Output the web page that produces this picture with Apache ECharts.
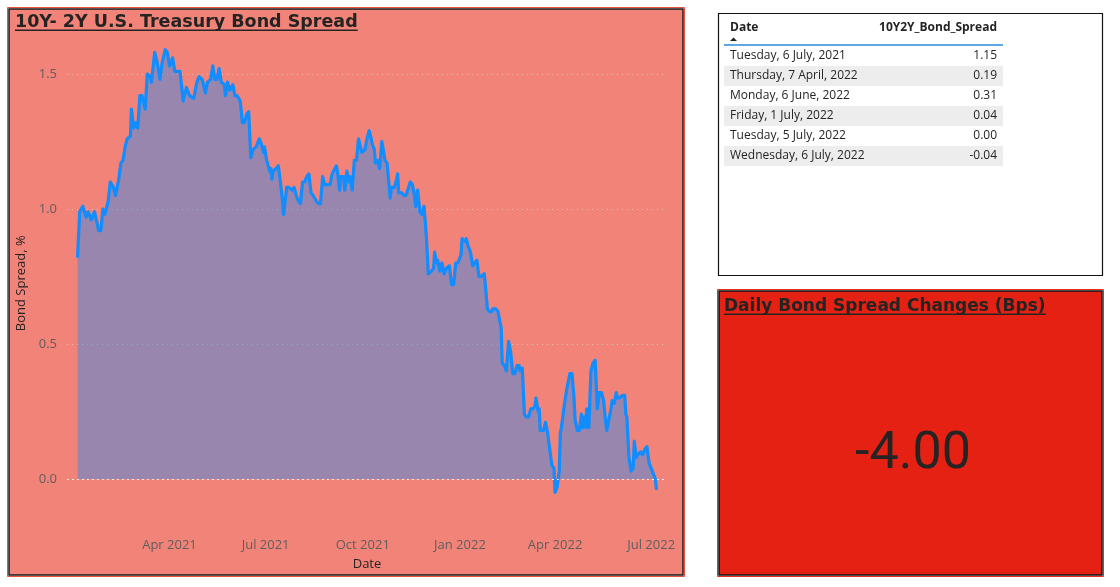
<!DOCTYPE html>
<html><head><meta charset="utf-8">
<script src="https://cdn.jsdelivr.net/npm/echarts@6/dist/echarts.min.js"></script>
<style>html,body{margin:0;padding:0;background:#fff}#c{width:1120px;height:587px}</style>
</head><body><div id="c"></div>
<script>
// ---- data ----
const dates = [
'2021-01-04','2021-01-06','2021-01-09','2021-01-12','2021-01-14','2021-01-17','2021-01-20','2021-01-24','2021-01-26','2021-01-28','2021-01-30',
'2021-02-02','2021-02-04','2021-02-07','2021-02-09','2021-02-12','2021-02-14','2021-02-16','2021-02-18','2021-02-20','2021-02-23','2021-02-24','2021-02-26','2021-02-28',
'2021-03-02','2021-03-04','2021-03-06','2021-03-09','2021-03-11','2021-03-14','2021-03-15','2021-03-18','2021-03-20','2021-03-23','2021-03-25','2021-03-28','2021-03-30',
'2021-04-01','2021-04-04','2021-04-06','2021-04-08','2021-04-11','2021-04-14','2021-04-17','2021-04-20','2021-04-24','2021-04-27','2021-04-29',
'2021-05-02','2021-05-05','2021-05-07','2021-05-10','2021-05-12','2021-05-14','2021-05-16','2021-05-18','2021-05-20','2021-05-23','2021-05-24','2021-05-26','2021-05-28','2021-05-31',
'2021-06-02','2021-06-04','2021-06-07','2021-06-09','2021-06-11','2021-06-13','2021-06-15','2021-06-17','2021-06-19','2021-06-22','2021-06-25','2021-06-27','2021-06-29','2021-06-30',
'2021-07-02','2021-07-05','2021-07-06','2021-07-07','2021-07-08','2021-07-11','2021-07-13','2021-07-15','2021-07-17','2021-07-18','2021-07-21','2021-07-23','2021-07-26','2021-07-28','2021-07-30',
'2021-08-01','2021-08-03','2021-08-05','2021-08-07','2021-08-09','2021-08-11','2021-08-13','2021-08-15','2021-08-18','2021-08-20','2021-08-22','2021-08-24','2021-08-26','2021-08-28','2021-08-31',
'2021-09-02','2021-09-06','2021-09-07','2021-09-09','2021-09-10','2021-09-13','2021-09-14','2021-09-16','2021-09-18','2021-09-19','2021-09-21','2021-09-23','2021-09-25','2021-09-27','2021-09-30',
'2021-10-03','2021-10-05','2021-10-07','2021-10-09','2021-10-10','2021-10-12','2021-10-13','2021-10-15','2021-10-17','2021-10-19','2021-10-20','2021-10-22','2021-10-24','2021-10-27','2021-10-28','2021-10-31',
'2021-11-02','2021-11-03','2021-11-04','2021-11-07','2021-11-09','2021-11-11','2021-11-15','2021-11-17','2021-11-19','2021-11-20','2021-11-22','2021-11-24','2021-11-26','2021-11-28','2021-11-30',
'2021-12-01','2021-12-02','2021-12-05','2021-12-07','2021-12-08','2021-12-10','2021-12-11','2021-12-13','2021-12-15','2021-12-17','2021-12-19','2021-12-22','2021-12-24','2021-12-26','2021-12-28','2021-12-30',
'2022-01-02','2022-01-03','2022-01-06','2022-01-07','2022-01-09','2022-01-11','2022-01-13','2022-01-15','2022-01-17','2022-01-19','2022-01-21','2022-01-24','2022-01-25','2022-01-27','2022-01-29','2022-01-31',
'2022-02-01','2022-02-04','2022-02-06','2022-02-07','2022-02-09','2022-02-10','2022-02-12','2022-02-14','2022-02-16','2022-02-18','2022-02-20','2022-02-22','2022-02-24','2022-02-26','2022-02-27',
'2022-03-01','2022-03-03','2022-03-05','2022-03-07','2022-03-09','2022-03-11','2022-03-13','2022-03-14','2022-03-16','2022-03-17','2022-03-18','2022-03-21','2022-03-23','2022-03-25','2022-03-27','2022-03-29','2022-03-31',
'2022-04-01','2022-04-03','2022-04-05','2022-04-06','2022-04-07','2022-04-08','2022-04-10','2022-04-12','2022-04-13','2022-04-15','2022-04-17','2022-04-19','2022-04-20','2022-04-22','2022-04-24','2022-04-26','2022-04-27','2022-04-29','2022-04-30',
'2022-05-01','2022-05-03','2022-05-05','2022-05-07','2022-05-09','2022-05-11','2022-05-13','2022-05-15','2022-05-17','2022-05-19','2022-05-20','2022-05-22','2022-05-24','2022-05-25','2022-05-27','2022-05-29','2022-05-30',
'2022-06-01','2022-06-04','2022-06-06','2022-06-07','2022-06-08','2022-06-10','2022-06-12','2022-06-14','2022-06-15','2022-06-17','2022-06-18','2022-06-21','2022-06-23','2022-06-25','2022-06-27','2022-06-29','2022-06-30',
'2022-07-01','2022-07-05','2022-07-06'
];
const spreads = [
0.82,0.99,1.01,0.97,0.99,0.96,0.99,0.92,0.92,1.00,0.98,
1.03,1.10,1.08,1.05,1.11,1.17,1.18,1.23,1.26,1.27,1.37,1.30,1.32,
1.30,1.42,1.42,1.37,1.50,1.49,1.47,1.58,1.55,1.48,1.54,1.59,1.58,
1.53,1.56,1.51,1.51,1.51,1.40,1.45,1.42,1.41,1.47,1.49,
1.48,1.43,1.47,1.48,1.53,1.48,1.48,1.52,1.47,1.46,1.42,1.47,1.44,1.46,
1.42,1.42,1.40,1.32,1.32,1.35,1.36,1.19,1.22,1.23,1.26,1.24,1.21,1.23,
1.18,1.14,1.15,1.11,1.14,1.15,1.16,1.10,1.03,0.98,1.08,1.08,1.07,1.08,1.05,
1.03,1.02,1.10,1.10,1.12,1.13,1.06,1.05,1.03,1.02,1.02,1.12,1.09,1.09,1.09,
1.13,1.16,1.14,1.07,1.12,1.12,1.07,1.14,1.10,1.12,1.07,1.18,1.18,1.26,1.21,
1.22,1.26,1.29,1.26,1.24,1.22,1.17,1.18,1.15,1.25,1.23,1.18,1.17,1.04,1.08,1.08,
1.11,1.13,1.06,1.06,1.05,1.05,1.10,1.09,1.05,1.01,1.07,0.99,0.98,1.01,0.91,
0.84,0.76,0.77,0.78,0.84,0.80,0.81,0.77,0.80,0.76,0.78,0.79,0.72,0.72,0.80,0.80,
0.83,0.89,0.88,0.89,0.86,0.84,0.79,0.80,0.81,0.75,0.75,0.76,0.72,0.63,0.62,0.62,
0.63,0.63,0.62,0.60,0.56,0.43,0.42,0.40,0.51,0.47,0.39,0.39,0.42,0.42,0.40,
0.41,0.24,0.23,0.23,0.26,0.26,0.27,0.30,0.25,0.26,0.18,0.18,0.21,0.17,0.11,0.05,0.04,
-0.05,-0.03,0.03,0.17,0.19,0.19,0.28,0.33,0.35,0.39,0.39,0.30,0.22,0.18,0.18,0.24,0.19,0.23,0.19,
0.26,0.19,0.40,0.43,0.44,0.26,0.32,0.32,0.29,0.21,0.18,0.22,0.26,0.29,0.28,0.32,0.30,
0.30,0.31,0.31,0.24,0.23,0.08,0.03,0.04,0.14,0.08,0.09,0.10,0.09,0.11,0.12,0.06,0.06,
0.04,0.00,-0.04
];
const xTickDates = ['2021-04-01','2021-07-01','2021-10-01','2022-01-01','2022-04-01','2022-07-01'];
const xTickLabels = ['Apr 2021','Jul 2021','Oct 2021','Jan 2022','Apr 2022','Jul 2022'];
const yTicks = [0, 0.5, 1.0, 1.5];
const tableHeaders = ['Date', '10Y2Y_Bond_Spread'];
const tableDates = ['Tuesday, 6 July, 2021','Thursday, 7 April, 2022','Monday, 6 June, 2022','Friday, 1 July, 2022','Tuesday, 5 July, 2022','Wednesday, 6 July, 2022'];
const tableValues = [1.15, 0.19, 0.31, 0.04, 0.00, -0.04];
const chartTitle = '10Y- 2Y U.S. Treasury Bond Spread';
const cardTitle = 'Daily Bond Spread Changes (Bps)';
const dailyChangeBps = -4.00;

// ---- helpers ----
function parseT(s){
  const p = s.split('-').map(Number);
  return new Date(p[0], p[1]-1, p[2]).getTime();
}
const xTickTimes = xTickDates.map(parseT);
function textWidth(text, font){
  try { return new echarts.graphic.Text({style:{text:text, font:font}}).getBoundingRect().width; }
  catch(e){ return text.length * 9; }
}
const DARK = '#252423';
const titleFont = 'bold 17.5px "DejaVu Sans"';
const cardTitleFont = 'bold 17px "DejaVu Sans"';
const rowFont = '12px "Open Sans"';
const headFont = 'bold 12px "Open Sans"';

const g = [];
// chart panel
g.push({type:'rect', z:-20, silent:true, shape:{x:7.5,y:7.5,width:677,height:569}, style:{fill:'none', stroke:'#e8503f', lineWidth:1}});
g.push({type:'rect', z:-19, silent:true, shape:{x:9,y:9,width:674,height:566}, style:{fill:'#F28379', stroke:'#1b1b1b', lineWidth:1.5}});
g.push({type:'text', z:10, silent:true, style:{text:chartTitle, x:15, y:22, font:titleFont, fill:DARK, textAlign:'left', textVerticalAlign:'middle', align:'left', verticalAlign:'middle'}});
g.push({type:'rect', z:10, silent:true, shape:{x:15, y:29.5, width:textWidth(chartTitle, titleFont), height:1.6}, style:{fill:DARK}});

// table panel
g.push({type:'rect', z:-20, silent:true, shape:{x:718.5,y:13.5,width:384,height:262}, style:{fill:'#ffffff', stroke:'#111', lineWidth:1.2}});
g.push({type:'text', z:10, silent:true, style:{text:tableHeaders[0], x:730, y:28, font:headFont, fill:DARK, textAlign:'left', textVerticalAlign:'middle', align:'left', verticalAlign:'middle'}});
g.push({type:'text', z:10, silent:true, style:{text:tableHeaders[1], x:997, y:28, font:headFont, fill:DARK, textAlign:'right', textVerticalAlign:'middle', align:'right', verticalAlign:'middle'}});
g.push({type:'polygon', z:10, silent:true, shape:{points:[[730,41],[737,41],[733.5,37.5]]}, style:{fill:DARK}});
g.push({type:'line', z:10, silent:true, shape:{x1:724,y1:45,x2:1003,y2:45}, style:{stroke:'#2b88d8', lineWidth:1.5}});
tableDates.forEach((d,i)=>{
  const top = 46 + 20*i;
  if (i % 2 === 1) g.push({type:'rect', z:5, silent:true, shape:{x:724,y:top,width:279,height:20}, style:{fill:'#EDEDED'}});
  g.push({type:'text', z:10, silent:true, style:{text:d, x:730, y:top+10, font:rowFont, fill:DARK, textAlign:'left', textVerticalAlign:'middle', align:'left', verticalAlign:'middle'}});
  g.push({type:'text', z:10, silent:true, style:{text:tableValues[i].toFixed(2), x:997, y:top+10, font:rowFont, fill:DARK, textAlign:'right', textVerticalAlign:'middle', align:'right', verticalAlign:'middle'}});
});

// card panel
g.push({type:'rect', z:-20, silent:true, shape:{x:717.5,y:289.5,width:386,height:287}, style:{fill:'none', stroke:'#e8301f', lineWidth:1}});
g.push({type:'rect', z:-19, silent:true, shape:{x:719,y:291,width:383,height:284}, style:{fill:'#E52114', stroke:'#111', lineWidth:1.5}});
g.push({type:'text', z:10, silent:true, style:{text:cardTitle, x:724, y:306.5, font:cardTitleFont, fill:DARK, textAlign:'left', textVerticalAlign:'middle', align:'left', verticalAlign:'middle'}});
g.push({type:'rect', z:10, silent:true, shape:{x:724, y:313.5, width:textWidth(cardTitle, cardTitleFont), height:1.6}, style:{fill:DARK}});
g.push({type:'text', z:10, silent:true, style:{text:dailyChangeBps.toFixed(2), x:913, y:455, font:'52px Roboto', fill:DARK, textAlign:'center', textVerticalAlign:'middle', align:'center', verticalAlign:'middle'}});

const chart = echarts.init(document.getElementById('c'), null, {renderer:'canvas'});
chart.setOption({
  animation:false,
  backgroundColor:'#ffffff',
  graphic:{elements:g},
  grid:{left:67, right:453, top:33.5, bottom:54, containLabel:false},
  xAxis:{
    type:'value', min:parseT('2020-12-25'), max:parseT('2022-07-16'),
    name:'Date', nameLocation:'middle', nameGap:25,
    nameTextStyle:{color:DARK, fontSize:13, fontFamily:'Open Sans'},
    axisLine:{show:false}, axisTick:{show:false, customValues:xTickTimes}, splitLine:{show:false},
    axisLabel:{
      customValues:xTickTimes, margin:6, color:'#605E5C', fontSize:13, fontFamily:'Open Sans',
      formatter:function(v){ let b=0, bd=Infinity; xTickTimes.forEach((t,i)=>{ const d=Math.abs(t-v); if(d<bd){bd=d;b=i;} }); return xTickLabels[b]; }
    }
  },
  yAxis:{
    type:'value', min:-0.2, max:1.65,
    name:'Bond Spread, %', nameLocation:'middle', nameGap:39,
    nameTextStyle:{color:DARK, fontSize:13, fontFamily:'Open Sans'},
    axisLine:{show:false},
    axisTick:{show:false, customValues:yTicks},
    axisLabel:{customValues:yTicks, margin:10, color:'#605E5C', fontSize:13, fontFamily:'Open Sans', formatter:v=>Number(v).toFixed(1)},
    splitLine:{show:true, lineStyle:{color:'rgba(215,205,200,0.85)', type:[1,4], width:1}}
  },
  series:[{
    type:'line',
    data:dates.map((d,i)=>[parseT(d), spreads[i]]),
    showSymbol:false, symbol:'none',
    lineStyle:{color:'#118DFF', width:3.2, join:'round'},
    itemStyle:{color:'#118DFF'},
    areaStyle:{color:'#118DFF', opacity:0.4, origin:'auto'},
    markLine:{silent:true, symbol:'none', label:{show:false},
      lineStyle:{color:'rgba(255,255,255,0.8)', type:[2,3], width:1},
      data:[{yAxis:0}]}
  }]
});
</script></body></html>
